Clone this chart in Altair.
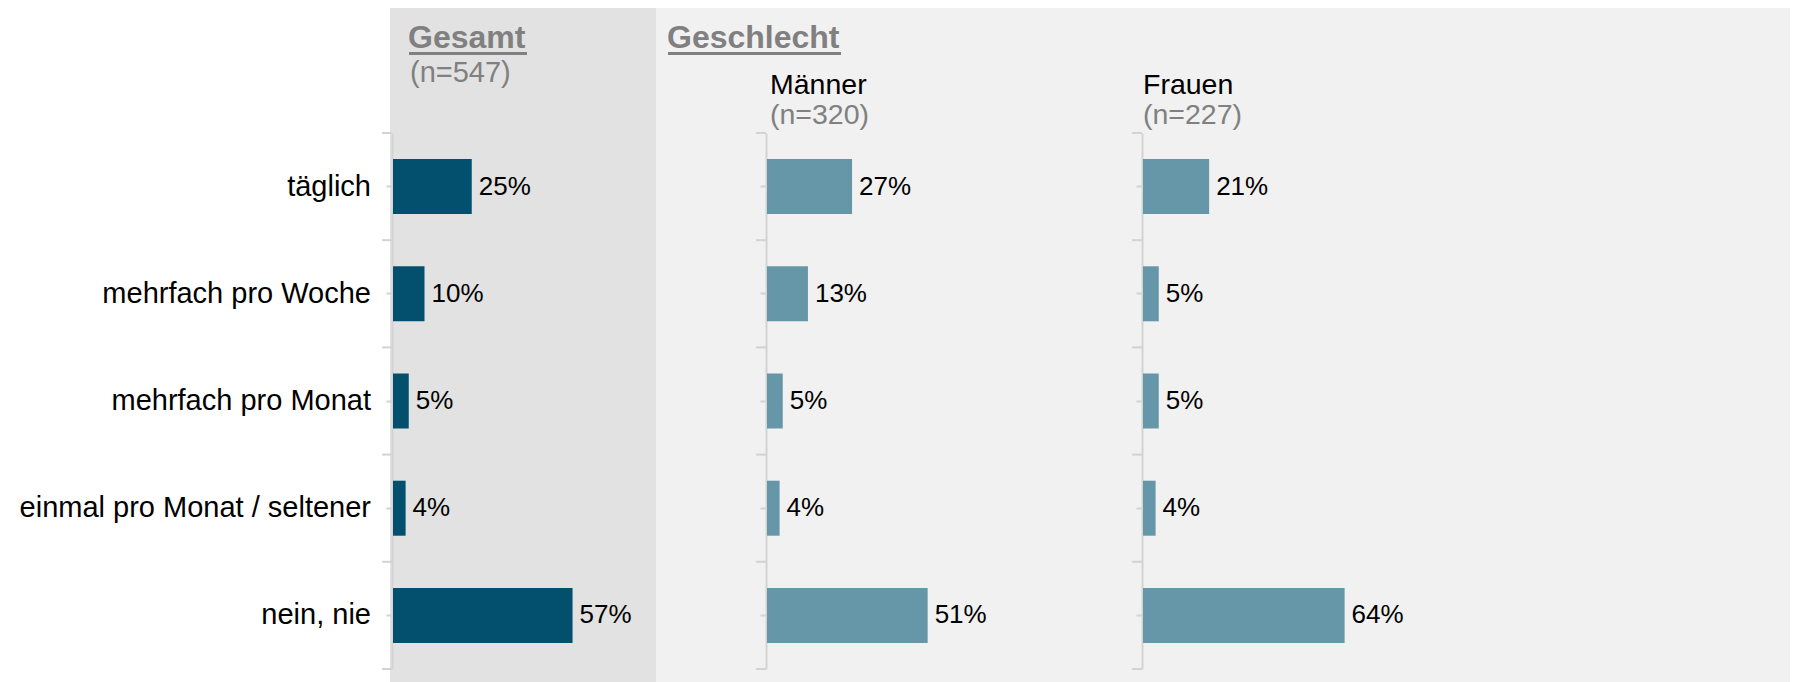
import altair as alt
import pandas as pd

# ---------------- data ----------------
categories = [
    "täglich",
    "mehrfach pro Woche",
    "mehrfach pro Monat",
    "einmal pro Monat / seltener",
    "nein, nie",
]
gesamt = [25, 10, 5, 4, 57]
maenner = [27, 13, 5, 4, 51]
frauen = [21, 5, 5, 4, 64]

section_titles = ["Gesamt", "Geschlecht"]
group_names = ["Männer", "Frauen"]
n_labels = ["(n=547)", "(n=320)", "(n=227)"]

# ---------------- style ----------------
FONT = "Liberation Sans"
DARK = "#02506E"
LIGHT = "#6697A9"
FILL_G = "#E2E2E2"
FILL_S = "#F1F1F1"
AX = "#D3D3D3"
GREY = "#808080"
H = 674
Y_RANGE = [125, 661]
PX100 = 315


def yenc(offset=None, band_pos=None, axis=True):
    kw = dict(sort=categories,
              scale=alt.Scale(range=Y_RANGE, paddingInner=0, paddingOuter=0))
    if axis:
        kw["axis"] = alt.Axis(offset=offset, labels=False, title=None, tickSize=6,
                              tickWidth=2, tickColor=AX, domainColor=AX,
                              domainWidth=2, grid=False)
    else:
        kw["axis"] = None
    if band_pos is not None:
        kw["bandPosition"] = band_pos
    return alt.Y("cat:N", **kw)


def one(text):
    return alt.Chart(pd.DataFrame({"t": [text]}))


def header(text, x, y, size, color, bold=False):
    return one(text).mark_text(align="left", baseline="alphabetic", fontSize=size,
                               font=FONT, color=color,
                               fontWeight="bold" if bold else "normal").encode(
        x=alt.value(x), y=alt.value(y), text="t:N")


def underline(x1, x2, y):
    return one("").mark_rule(color=GREY, strokeWidth=3).encode(
        x=alt.value(x1), x2=alt.value(x2), y=alt.value(y))


def panel(values, color, axis_x, width, fill, extra):
    df = pd.DataFrame({"cat": categories, "v": values,
                       "lbl": [f"{v}%" for v in values]})
    base = alt.Chart(df)
    off = -axis_x
    x = alt.X("v:Q", scale=alt.Scale(domain=[0, 100],
                                     range=[axis_x + 1, axis_x + 1 + PX100]),
              axis=None)
    bars = base.mark_bar(size=55, color=color).encode(x=x, y=yenc(off))
    txt = base.mark_text(align="left", baseline="middle", dx=7, fontSize=26,
                         font=FONT, color="black").encode(
        x=x, y=yenc(off), text="lbl:N")
    btick = base.mark_rule(color=AX, strokeWidth=2).encode(
        y=yenc(off, band_pos=0), x=alt.value(axis_x - 10), x2=alt.value(axis_x))
    etick = base.transform_filter(alt.datum.cat == categories[-1]).mark_rule(
        color=AX, strokeWidth=2).encode(
        y=yenc(off, band_pos=1), x=alt.value(axis_x - 10), x2=alt.value(axis_x))
    return alt.layer(bars, txt, btick, etick, *extra).properties(
        width=width, height=H, view=alt.ViewBackground(fill=fill, stroke=None))


labels = alt.Chart(pd.DataFrame({"cat": categories})).mark_text(
    align="right", baseline="middle", fontSize=29, font=FONT, color="black"
).encode(y=yenc(axis=False), x=alt.value(363), text="cat:N").properties(
    width=382, height=H)

g = panel(gesamt, DARK, 2, 266, FILL_G, [
    header(section_titles[0], 18, 40, 32, GREY, bold=True),
    underline(19, 137, 45.5),
    header(n_labels[0], 20, 74, 29, GREY),
])

m = panel(maenner, LIGHT, 110, 376, FILL_S, [
    header(section_titles[1], 11, 40, 32, GREY, bold=True),
    underline(12, 185, 45.5),
    header(group_names[0], 114, 86, 28.5, "black"),
    header(n_labels[1], 114, 116, 28.5, GREY),
])

f = panel(frauen, LIGHT, 110, 758, FILL_S, [
    header(group_names[1], 111, 86, 28.5, "black"),
    header(n_labels[2], 111, 116, 28.5, GREY),
])

chart = alt.hconcat(labels, g, m, f, spacing=0, bounds="flush").properties(
    padding=0
).configure_view(stroke=None).configure_text(font=FONT)

chart.save("out.html", embed_options={"renderer": "svg", "actions": False})
